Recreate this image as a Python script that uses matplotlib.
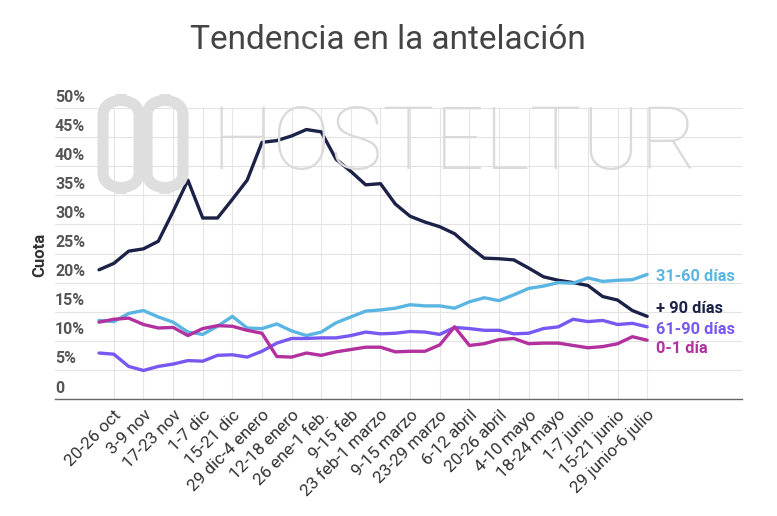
import matplotlib.pyplot as plt
import numpy as np
from matplotlib.patches import FancyBboxPatch

# Weekly share by booking lead time (38 weeks, mid-Oct to early July)
tick_labels = [
    "20-26 oct", "3-9 nov", "17-23 nov", "1-7 dic", "15-21 dic",
    "29 dic-4 enero", "12-18 enero", "26 ene-1 feb.", "9-15 feb",
    "23 feb-1 marzo", "9-15 marzo", "23-29 marzo", "6-12 abril",
    "20-26 abril", "4-10 mayo", "18-24 mayo", "1-7 junio", "15-21 junio",
    "29 junio-6 julio",
]

mas_90 = [22.2, 23.3, 25.4, 25.8, 27.1, 32.2, 37.6, 31.1, 31.1, 34.3,
          37.6, 44.1, 44.4, 45.2, 46.3, 45.9, 41.2, 39.1, 36.8, 37.0,
          33.5, 31.4, 30.4, 29.6, 28.4, 26.2, 24.2, 24.1, 23.9, 22.5,
          21.0, 20.4, 20.0, 19.5, 17.6, 17.0, 15.2, 14.2]
d31_60 = [13.5, 13.3, 14.7, 15.2, 14.1, 13.2, 11.5, 11.1, 12.5, 14.2,
          12.2, 12.1, 12.9, 11.7, 10.9, 11.5, 13.1, 14.1, 15.1, 15.3,
          15.6, 16.2, 16.0, 16.0, 15.6, 16.7, 17.4, 16.9, 17.9, 19.0,
          19.4, 20.0, 19.9, 20.8, 20.2, 20.4, 20.5, 21.4]
d0_1 = [13.2, 13.7, 13.9, 12.8, 12.2, 12.3, 10.9, 12.1, 12.6, 12.5,
        11.8, 11.3, 7.3, 7.2, 7.9, 7.5, 8.1, 8.5, 8.9, 8.9,
        8.1, 8.2, 8.2, 9.3, 12.4, 9.2, 9.5, 10.2, 10.4, 9.5,
        9.6, 9.6, 9.2, 8.8, 9.0, 9.5, 10.7, 10.1]
d61_90 = [7.9, 7.7, 5.6, 4.9, 5.6, 6.0, 6.6, 6.5, 7.5, 7.6,
          7.2, 8.2, 9.6, 10.4, 10.4, 10.5, 10.5, 10.9, 11.5, 11.2,
          11.3, 11.6, 11.5, 11.1, 12.3, 12.1, 11.8, 11.8, 11.2, 11.3,
          12.1, 12.4, 13.7, 13.3, 13.5, 12.8, 13.0, 12.4]

series = [
    ("+ 90 días", mas_90, "#1b2147"),
    ("31-60 días", d31_60, "#5ab5e3"),
    ("61-90 días", d61_90, "#7857f2"),
    ("0-1 día", d0_1, "#b3309f"),
]
# label heights at the right end (nudged apart like the original)
label_y = {"31-60 días": 21.1, "+ 90 días": 15.6, "61-90 días": 12.0, "0-1 día": 8.6}

plt.rcParams["font.family"] = ["Roboto", "DejaVu Sans"]

fig = plt.figure(figsize=(7.77, 5.16), dpi=100)
ax = fig.add_axes([55 / 777, 117 / 516, 687 / 777, 291 / 516])

x = np.arange(len(mas_90))
ticks = np.arange(1, len(x), 2)

# watermark
fig.text(0.272, 1 - 145 / 516, "HOSTELTUR", fontsize=63, color="#dadada",
         fontweight="light", va="center", ha="left", zorder=0)
for x0 in (103, 147):
    fig.patches.append(FancyBboxPatch(
        (x0 / 777, 1 - 188 / 516), 36 / 777, 88 / 516,
        boxstyle="round,pad=0,rounding_size=0.03", transform=fig.transFigure,
        fill=False, edgecolor="#dedede", linewidth=8, zorder=0))

for name, vals, col in series:
    ax.plot(x, vals, color=col, linewidth=2.4, solid_capstyle="round", zorder=3)
    ax.annotate(name, xy=(x[-1], label_y[name]), xytext=(6, 0),
                textcoords="offset points", color=col, fontsize=11.8,
                fontweight="bold", va="center", ha="left", annotation_clip=False)

ax.set_xlim(-2.97, 43.4)
ax.set_ylim(0, 50)
ax.set_facecolor("none")

ax.set_yticks(np.arange(0, 51, 5))
ax.set_yticklabels([])
ax.grid(axis="y", color="#e3e3e3", linewidth=0.8)
for v in range(0, 51, 5):
    txt = "0" if v == 0 else f"{v}%"
    ax.text(-2.97, v + 0.6, txt, fontsize=11.5, fontweight="bold", color="#555555",
            ha="left", va="bottom")
for t in ticks:
    ax.axvline(t, color="#e6e6e6", linewidth=0.8, zorder=1)

ax.set_xticks(ticks)
ax.set_xticklabels(tick_labels, rotation=45, ha="right", va="top",
                   rotation_mode="anchor", fontsize=12.3, color="#333333")
ax.tick_params(axis="both", length=0)
ax.tick_params(axis="x", pad=6)

for s in ("top", "right", "left"):
    ax.spines[s].set_visible(False)
ax.spines["bottom"].set_color("#666666")
ax.spines["bottom"].set_linewidth(1.0)

fig.text(40 / 777, 1 - 255 / 516, "Cuota", rotation=90, fontsize=12,
         fontweight="bold", color="#333333", ha="center", va="center")
fig.text(388 / 777, 1 - 40 / 516, "Tendencia en la antelación", fontsize=24,
         color="#444444", ha="center", va="center")

fig.savefig("out.png", dpi=100)
